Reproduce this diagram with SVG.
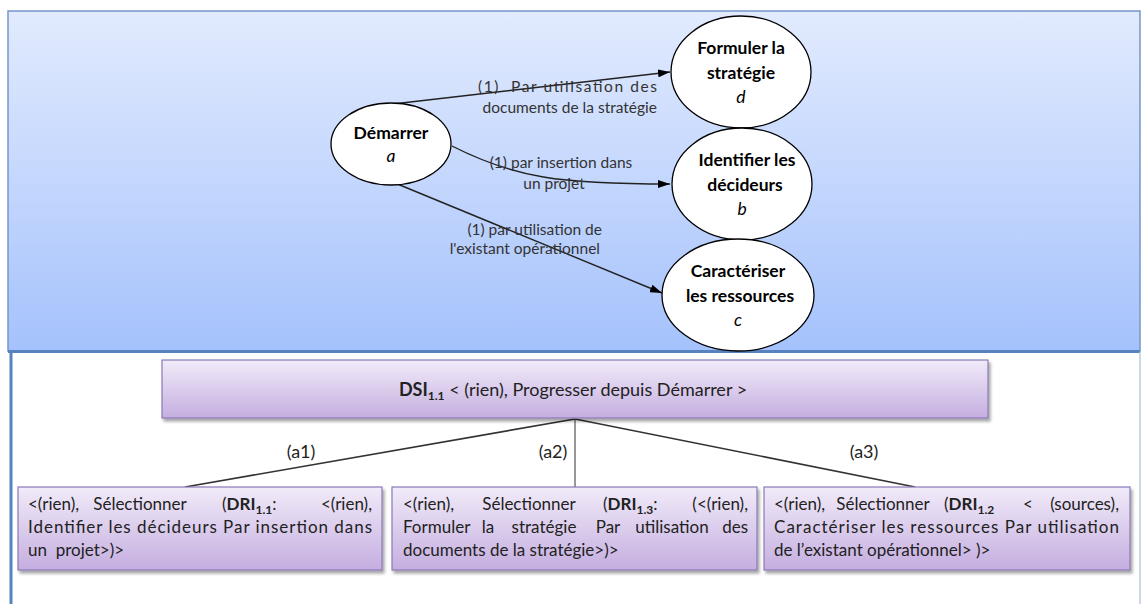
<svg xmlns="http://www.w3.org/2000/svg" width="1141" height="604" viewBox="0 0 1141 604">
<defs>
<linearGradient id="gPanel" x1="0" y1="0" x2="0" y2="1">
<stop offset="0" stop-color="#e2ebfe"/>
<stop offset="1" stop-color="#a5c2fc"/>
</linearGradient>
<linearGradient id="gBox" x1="0" y1="0" x2="0" y2="1">
<stop offset="0" stop-color="#f1ebf9"/>
<stop offset="1" stop-color="#c5aee0"/>
</linearGradient>
<filter id="sh" x="-5%" y="-10%" width="110%" height="130%">
<feDropShadow dx="2" dy="3" stdDeviation="1.5" flood-color="#000" flood-opacity="0.35"/>
</filter>
<marker id="arr" viewBox="0 0 12 8" refX="12" refY="4" markerWidth="12" markerHeight="8" markerUnits="userSpaceOnUse" orient="auto">
<path d="M0,0 L12,4 L0,8 z" fill="#000"/>
</marker>
</defs>
<style>
text{font-family:Lato,"Open Sans","Liberation Sans",sans-serif;fill:#000}
.nb{font-weight:bold;font-size:17.5px;text-anchor:middle}
.ni{font-style:italic;font-size:17.5px;text-anchor:middle}
.el{fill:#fff;stroke:#000;stroke-width:1.3}
.lbl{font-size:15.5px;fill:#333}
.edge{fill:none;stroke:#222;stroke-width:1.4}
.tree{fill:none;stroke:#333;stroke-width:1.6}
.box{fill:url(#gBox);stroke:#8b79b6;stroke-width:1.2;filter:url(#sh)}
.bt{font-size:17px;fill:#222}
.b{font-weight:bold}
.al{font-size:18px;fill:#222;text-anchor:middle}
</style>
<rect x="0" y="0" width="1141" height="604" fill="#fff"/>
<g id="panel">
<rect x="8" y="11" width="1132" height="340" fill="url(#gPanel)" stroke="#7597c9" stroke-width="1.5"/>
<line x1="8" y1="351.5" x2="1140" y2="351.5" stroke="#5682be" stroke-width="3"/>
<line x1="11" y1="352" x2="11" y2="604" stroke="#5682be" stroke-width="3"/>
<line x1="1140" y1="352" x2="1140" y2="604" stroke="#a9bfe0" stroke-width="1.2"/>
</g>
<g id="connectors">
<path class="edge" d="M393,104 L670,72" marker-end="url(#arr)"/>
<path class="edge" d="M452,146 C515,178 560,184 670,184" marker-end="url(#arr)"/>
<path class="edge" d="M395,183 L662,293" marker-end="url(#arr)"/>
<text class="lbl" x="478" y="92" textLength="179" lengthAdjust="spacing" xml:space="preserve">(1)  Par utilisation des</text>
<text class="lbl" x="657" y="113" text-anchor="end">documents de la stratégie</text>
<text class="lbl" x="561" y="168" text-anchor="middle">(1) par insertion dans</text>
<text class="lbl" x="554" y="189" text-anchor="middle">un projet</text>
<text class="lbl" x="602" y="235" text-anchor="end">(1) par utilisation de</text>
<text class="lbl" x="600" y="254" text-anchor="end">l'existant opérationnel</text>
<path class="tree" d="M575,419 L185,487"/>
<path class="tree" d="M575,419 L575,487" style="stroke-width:1"/>
<path class="tree" d="M575,419 L915,487"/>
<text class="al" x="301" y="458">(a1)</text>
<text class="al" x="553" y="458">(a2)</text>
<text class="al" x="864" y="458">(a3)</text>
</g>
<g id="node-a">
<ellipse class="el" cx="391" cy="144" rx="60" ry="41"/>
<text class="nb" x="391" y="139">Démarrer</text>
<text class="ni" x="391" y="162">a</text>
</g>
<g id="node-d">
<ellipse class="el" cx="741" cy="72" rx="70" ry="56"/>
<text class="nb" x="741" y="54">Formuler la</text>
<text class="nb" x="741" y="79">stratégie</text>
<text class="ni" x="741" y="103">d</text>
</g>
<g id="node-b">
<ellipse class="el" cx="742" cy="184" rx="70" ry="56"/>
<text class="nb" x="747" y="166">Identifier les</text>
<text class="nb" x="745" y="191">décideurs</text>
<text class="ni" x="742" y="215">b</text>
</g>
<g id="node-c">
<ellipse class="el" cx="738" cy="295" rx="76" ry="56"/>
<text class="nb" x="738" y="277">Caractériser</text>
<text class="nb" x="740" y="302">les ressources</text>
<text class="ni" x="738" y="326">c</text>
</g>
<g id="node-dsi">
<rect class="box" x="162" y="360" width="826" height="58"/>
<text x="573" y="396" text-anchor="middle" style="font-size:18px;fill:#222"><tspan class="b">DSI</tspan><tspan class="b" dy="4" style="font-size:12px">1.1</tspan><tspan dy="-4"> &lt; (rien), Progresser depuis Démarrer &gt;</tspan></text>
</g>
<g id="node-a1">
<rect class="box" x="18" y="487" width="364" height="83"/>
<text class="bt" x="28" y="510">&lt;(rien),</text>
<text class="bt" x="140" y="510" text-anchor="middle">Sélectionner</text>
<text class="bt" x="222" y="510">(<tspan class="b">DRI</tspan><tspan class="b" dy="4" style="font-size:12px">1.1</tspan><tspan dy="-4">:</tspan></text>
<text class="bt" x="372" y="510" text-anchor="end">&lt;(rien),</text>
<text class="bt" x="28" y="533" textLength="344" lengthAdjust="spacing">Identifier les décideurs Par insertion dans</text>
<text class="bt" x="28" y="556" xml:space="preserve">un  projet&gt;)&gt;</text>
</g>
<g id="node-a2">
<rect class="box" x="392" y="487" width="365" height="83"/>
<text class="bt" x="403" y="510">&lt;(rien),</text>
<text class="bt" x="529" y="510" text-anchor="middle">Sélectionner</text>
<text class="bt" x="603" y="510">(<tspan class="b">DRI</tspan><tspan class="b" dy="4" style="font-size:12px">1.3</tspan><tspan dy="-4">:</tspan></text>
<text class="bt" x="748" y="510" text-anchor="end">(&lt;(rien),</text>
<text class="bt" x="403" y="533">Formuler</text>
<text class="bt" x="488" y="533" text-anchor="middle">la</text>
<text class="bt" x="544" y="533" text-anchor="middle">stratégie</text>
<text class="bt" x="608" y="533" text-anchor="middle">Par</text>
<text class="bt" x="672" y="533" text-anchor="middle">utilisation</text>
<text class="bt" x="748" y="533" text-anchor="end">des</text>
<text class="bt" x="403" y="556">documents de la stratégie&gt;)&gt;</text>
</g>
<g id="node-a3">
<rect class="box" x="764" y="487" width="366" height="83"/>
<text class="bt" x="774" y="510">&lt;(rien),</text>
<text class="bt" x="883" y="510" text-anchor="middle">Sélectionner</text>
<text class="bt" x="944" y="510">(<tspan class="b">DRI</tspan><tspan class="b" dy="4" style="font-size:12px">1.2</tspan></text>
<text class="bt" x="1028" y="510" text-anchor="middle">&lt;</text>
<text class="bt" x="1119" y="510" text-anchor="end">(sources),</text>
<text class="bt" x="774" y="533" textLength="345" lengthAdjust="spacing">Caractériser les ressources Par utilisation</text>
<text class="bt" x="774" y="556">de l’existant opérationnel&gt; )&gt;</text>
</g>
</svg>
